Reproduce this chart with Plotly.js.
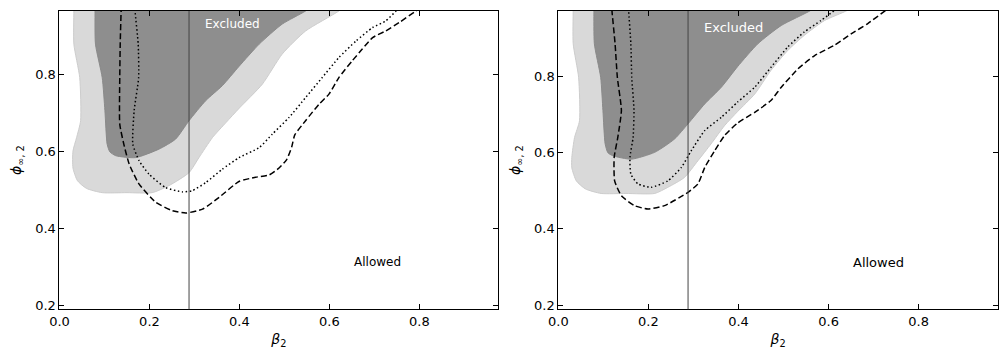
<!DOCTYPE html>
<html>
<head>
<meta charset="utf-8">
<script src="https://cdn.plot.ly/plotly-3.0.1.min.js"></script>
<style>
  body { margin: 0; background: #fff; }
  #plot { width: 1008px; height: 360px; }
</style>
</head>
<body>
<div id="plot"></div>
<script>
// beta_2 limit (vertical line)
var betaLimit = 0.288;

// ---- left panel ----
var lightA_x = [0.032, 0.032, 0.032, 0.045, 0.047, 0.038, 0.030, 0.030, 0.040, 0.060, 0.095, 0.150, 0.206, 0.243, 0.288, 0.310, 0.340, 0.370, 0.400, 0.451, 0.495, 0.547, 0.621, 0.66];
var lightA_y = [1.0, 0.964, 0.878, 0.791, 0.679, 0.635, 0.600, 0.556, 0.523, 0.503, 0.492, 0.492, 0.492, 0.510, 0.544, 0.583, 0.635, 0.674, 0.712, 0.774, 0.852, 0.912, 0.964, 1.0];

var darkA_x = [0.079, 0.079, 0.080, 0.095, 0.101, 0.106, 0.112, 0.125, 0.169, 0.221, 0.258, 0.288, 0.325, 0.362, 0.399, 0.444, 0.495, 0.547, 0.59];
var darkA_y = [1.0, 0.964, 0.878, 0.791, 0.705, 0.618, 0.598, 0.588, 0.583, 0.605, 0.631, 0.679, 0.731, 0.770, 0.820, 0.878, 0.930, 0.964, 1.0];

var dashA_x = [0.138, 0.137, 0.135, 0.134, 0.134, 0.143, 0.155, 0.177, 0.214, 0.251, 0.281, 0.318, 0.355, 0.399, 0.436, 0.466, 0.488, 0.505, 0.516, 0.523, 0.547, 0.577, 0.599, 0.621, 0.651, 0.673, 0.696, 0.725, 0.755, 0.792, 0.81];
var dashA_y = [1.0, 0.964, 0.878, 0.791, 0.670, 0.618, 0.566, 0.514, 0.467, 0.445, 0.439, 0.449, 0.480, 0.521, 0.532, 0.538, 0.556, 0.578, 0.610, 0.642, 0.679, 0.722, 0.748, 0.791, 0.835, 0.865, 0.895, 0.912, 0.934, 0.964, 0.98];

var dotA_x = [0.167, 0.168, 0.175, 0.176, 0.166, 0.163, 0.177, 0.199, 0.236, 0.273, 0.295, 0.325, 0.362, 0.399, 0.444, 0.473, 0.510, 0.547, 0.584, 0.621, 0.659, 0.696, 0.725, 0.748, 0.76];
var dotA_y = [1.0, 0.964, 0.878, 0.791, 0.705, 0.618, 0.575, 0.540, 0.505, 0.494, 0.497, 0.518, 0.553, 0.583, 0.609, 0.644, 0.687, 0.739, 0.791, 0.843, 0.886, 0.921, 0.938, 0.964, 0.98];

// ---- right panel ----
var lightB_x = [0.033, 0.033, 0.033, 0.045, 0.047, 0.036, 0.030, 0.030, 0.040, 0.060, 0.095, 0.150, 0.214, 0.243, 0.280, 0.310, 0.339, 0.369, 0.398, 0.436, 0.472, 0.509, 0.546, 0.591, 0.642, 0.67];
var lightB_y = [1.0, 0.974, 0.886, 0.798, 0.684, 0.640, 0.588, 0.560, 0.526, 0.505, 0.493, 0.493, 0.493, 0.509, 0.535, 0.579, 0.623, 0.671, 0.708, 0.754, 0.816, 0.868, 0.908, 0.947, 0.974, 1.0];

var darkB_x = [0.079, 0.079, 0.080, 0.094, 0.099, 0.104, 0.110, 0.121, 0.162, 0.214, 0.258, 0.288, 0.325, 0.362, 0.398, 0.443, 0.495, 0.561, 0.59];
var darkB_y = [1.0, 0.974, 0.886, 0.798, 0.711, 0.623, 0.600, 0.592, 0.583, 0.601, 0.636, 0.676, 0.728, 0.772, 0.826, 0.886, 0.934, 0.974, 1.0];

var dashB_x = [0.118, 0.119, 0.126, 0.131, 0.140, 0.132, 0.124, 0.125, 0.140, 0.169, 0.199, 0.236, 0.288, 0.310, 0.325, 0.347, 0.369, 0.398, 0.436, 0.472, 0.495, 0.532, 0.569, 0.613, 0.650, 0.687, 0.727, 0.74];
var dashB_y = [1.0, 0.974, 0.886, 0.798, 0.711, 0.640, 0.588, 0.526, 0.487, 0.461, 0.452, 0.461, 0.496, 0.518, 0.561, 0.605, 0.645, 0.678, 0.706, 0.737, 0.772, 0.820, 0.855, 0.882, 0.912, 0.939, 0.974, 0.985];

var dotB_x = [0.155, 0.156, 0.161, 0.163, 0.168, 0.166, 0.159, 0.161, 0.177, 0.206, 0.243, 0.273, 0.295, 0.325, 0.362, 0.398, 0.436, 0.472, 0.509, 0.546, 0.583, 0.613, 0.62];
var dotB_y = [1.0, 0.974, 0.886, 0.798, 0.711, 0.640, 0.588, 0.544, 0.518, 0.509, 0.526, 0.561, 0.605, 0.658, 0.693, 0.733, 0.772, 0.824, 0.877, 0.917, 0.947, 0.974, 0.985];

var font = 'DejaVu Sans, sans-serif';

function panel(xa, ya, lx, ly, dx, dy, dsx, dsy, dtx, dty) {
    return [
        {x: lx, y: ly, xaxis: xa, yaxis: ya, type: 'scatter', mode: 'lines', fill: 'toself',
         fillcolor: '#d9d9d9', line: {color: '#cccccc', width: 1, shape: 'spline', smoothing: 0.6}, hoverinfo: 'skip'},
        {x: dx, y: dy, xaxis: xa, yaxis: ya, type: 'scatter', mode: 'lines', fill: 'toself',
         fillcolor: '#8e8e8e', line: {color: '#8a8a8a', width: 1, shape: 'spline', smoothing: 0.6}, hoverinfo: 'skip'},
        {x: dsx, y: dsy, xaxis: xa, yaxis: ya, type: 'scatter', mode: 'lines',
         line: {color: '#000', width: 1.5, dash: '6px,3px', shape: 'spline', smoothing: 0.5}},
        {x: dtx, y: dty, xaxis: xa, yaxis: ya, type: 'scatter', mode: 'lines',
         line: {color: '#000', width: 1.5, dash: '1.5px,2.5px', shape: 'spline', smoothing: 0.5}}
    ];
}

var data = [].concat(
    panel('x', 'y', lightA_x, lightA_y, darkA_x, darkA_y, dashA_x, dashA_y, dotA_x, dotA_y),
    panel('x2', 'y2', lightB_x, lightB_y, darkB_x, darkB_y, dashB_x, dashB_y, dotB_x, dotB_y)
);

function xax(dom, anchor) {
    return {
        domain: dom, anchor: anchor, range: [0, 0.9755],
        tickvals: [0, 0.2, 0.4, 0.6, 0.8], ticktext: ['0.0', '0.2', '0.4', '0.6', '0.8'],
        ticks: 'inside', ticklen: 5, tickwidth: 1, tickcolor: '#000', mirror: 'ticks',
        showline: true, linecolor: '#000', linewidth: 1, showgrid: false, zeroline: false,
        tickfont: {family: font, size: 13, color: '#000'},
        title: {text: '<i>β</i><sub>2</sub>', font: {family: font, size: 14, color: '#000'}, standoff: 6}
    };
}
function yax(range, anchor) {
    return {
        domain: [0.1408, 0.9694], anchor: anchor, range: range,
        tickvals: [0.2, 0.4, 0.6, 0.8], ticktext: ['0.2', '0.4', '0.6', '0.8'],
        ticks: 'inside', ticklen: 5, tickwidth: 1, tickcolor: '#000', mirror: 'ticks',
        showline: true, linecolor: '#000', linewidth: 1, showgrid: false, zeroline: false,
        tickfont: {family: font, size: 13, color: '#000'},
        title: {text: '<i>ϕ</i><sub>∞, 2</sub>', font: {family: font, size: 14, color: '#000'}, standoff: 10}
    };
}

var layout = {
    width: 1008, height: 360,
    margin: {l: 0, r: 0, t: 0, b: 0},
    paper_bgcolor: '#fff', plot_bgcolor: '#fff',
    showlegend: false,
    font: {family: font, color: '#000'},
    xaxis: xax([0.059, 0.4944], 'y'),
    yaxis: yax([0.1888, 0.964], 'x'),
    xaxis2: xax([0.5539, 0.9898], 'y2'),
    yaxis2: yax([0.1888, 0.972], 'x2'),
    shapes: [
        {type: 'line', xref: 'x', yref: 'y domain', x0: betaLimit, x1: betaLimit, y0: 0, y1: 1, line: {color: '#444', width: 1}},
        {type: 'line', xref: 'x2', yref: 'y2 domain', x0: betaLimit, x1: betaLimit, y0: 0, y1: 1, line: {color: '#444', width: 1}}
    ],
    annotations: [
        {xref: 'x', yref: 'y', x: 0.319, y: 0.931, xanchor: 'left', yanchor: 'middle', showarrow: false,
         text: 'Excluded', font: {family: font, size: 12, color: '#fff'}},
        {xref: 'x', yref: 'y', x: 0.650, y: 0.3125, xanchor: 'left', yanchor: 'middle', showarrow: false,
         text: 'Allowed', font: {family: font, size: 12, color: '#000'}},
        {xref: 'x2', yref: 'y2', x: 0.319, y: 0.929, xanchor: 'left', yanchor: 'middle', showarrow: false,
         text: 'Excluded', font: {family: font, size: 13, color: '#fff'}},
        {xref: 'x2', yref: 'y2', x: 0.649, y: 0.311, xanchor: 'left', yanchor: 'middle', showarrow: false,
         text: 'Allowed', font: {family: font, size: 13, color: '#000'}}
    ]
};

Plotly.newPlot('plot', data, layout, {staticPlot: true});
</script>
</body>
</html>
